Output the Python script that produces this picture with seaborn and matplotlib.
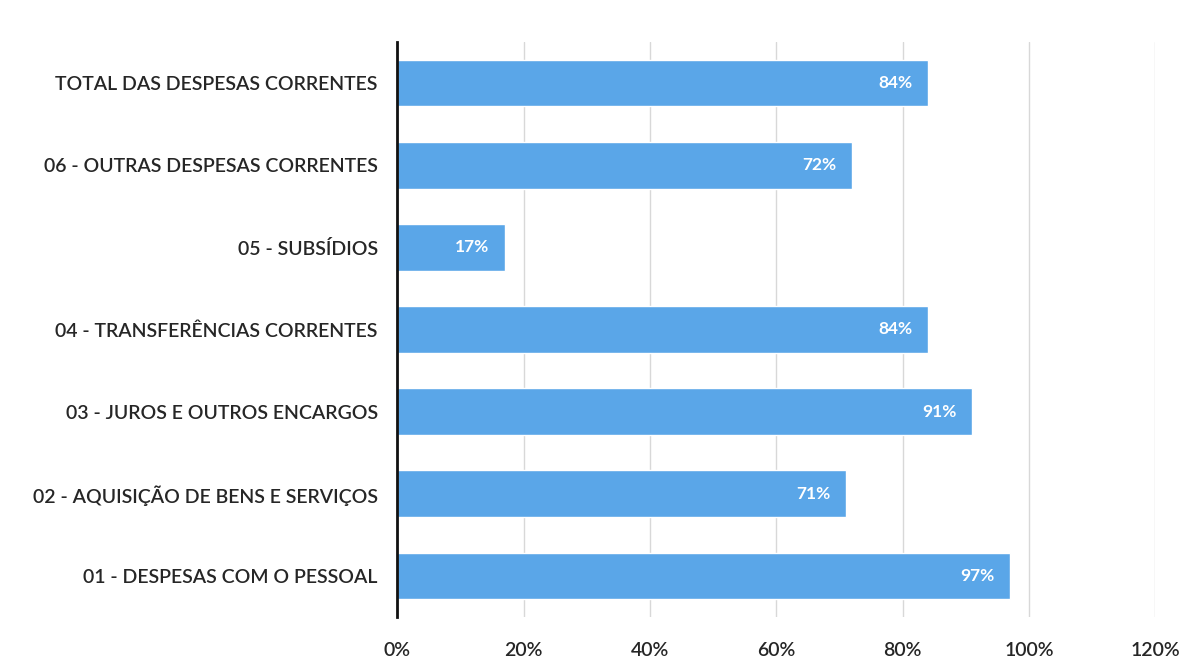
import matplotlib
matplotlib.use("Agg")
import matplotlib.pyplot as plt
from matplotlib.ticker import FuncFormatter
import seaborn as sns
import pandas as pd

categorias = [
    "TOTAL DAS DESPESAS CORRENTES",
    "06 - OUTRAS DESPESAS CORRENTES",
    "05 - SUBSÍDIOS",
    "04 - TRANSFERÊNCIAS CORRENTES",
    "03 - JUROS E OUTROS ENCARGOS",
    "02 - AQUISIÇÃO DE BENS E SERVIÇOS",
    "01 - DESPESAS COM O PESSOAL",
]
execucao = [84, 72, 17, 84, 91, 71, 97]
ticks_x = [0, 20, 40, 60, 80, 100, 120]

df = pd.DataFrame({"categoria": categorias, "execucao": execucao})

sns.set_theme(style="white")
plt.rcParams["font.family"] = ["Lato", "DejaVu Sans"]

fig = plt.figure(figsize=(12, 6.68), dpi=100)
ax = fig.add_axes([0.331, 0.0763, 0.6317, 0.861])

sns.barplot(data=df, x="execucao", y="categoria", order=categorias,
            color="#5AA6E8", saturation=1, width=0.57, ax=ax)

ax.set_xlim(0, 120)
ax.set_xticks(ticks_x)
ax.xaxis.set_major_formatter(FuncFormatter(lambda v, p: f"{v:.0f}%"))
ax.grid(axis="x", color="#d8d8d8", linewidth=1)
ax.set_axisbelow(True)
ax.set_xlabel("")
ax.set_ylabel("")

for s in ["top", "right", "bottom"]:
    ax.spines[s].set_visible(False)
ax.spines["left"].set_color("#111111")
ax.spines["left"].set_linewidth(2)

ax.tick_params(axis="both", length=0)
ax.tick_params(axis="y", pad=14, labelsize=14, labelcolor="#262626")
ax.tick_params(axis="x", pad=18, labelsize=14, labelcolor="#262626")
for lbl in ax.get_yticklabels() + ax.get_xticklabels():
    lbl.set_fontweight("semibold")

for bar, v in zip(ax.patches, execucao):
    y = bar.get_y() + bar.get_height() / 2
    ax.annotate(f"{v}%", xy=(v, y), xytext=(-11, 0), textcoords="offset points",
                ha="right", va="center", color="white", fontsize=12.5,
                fontweight="bold")

fig.savefig("out.png", dpi=100, facecolor="white")
